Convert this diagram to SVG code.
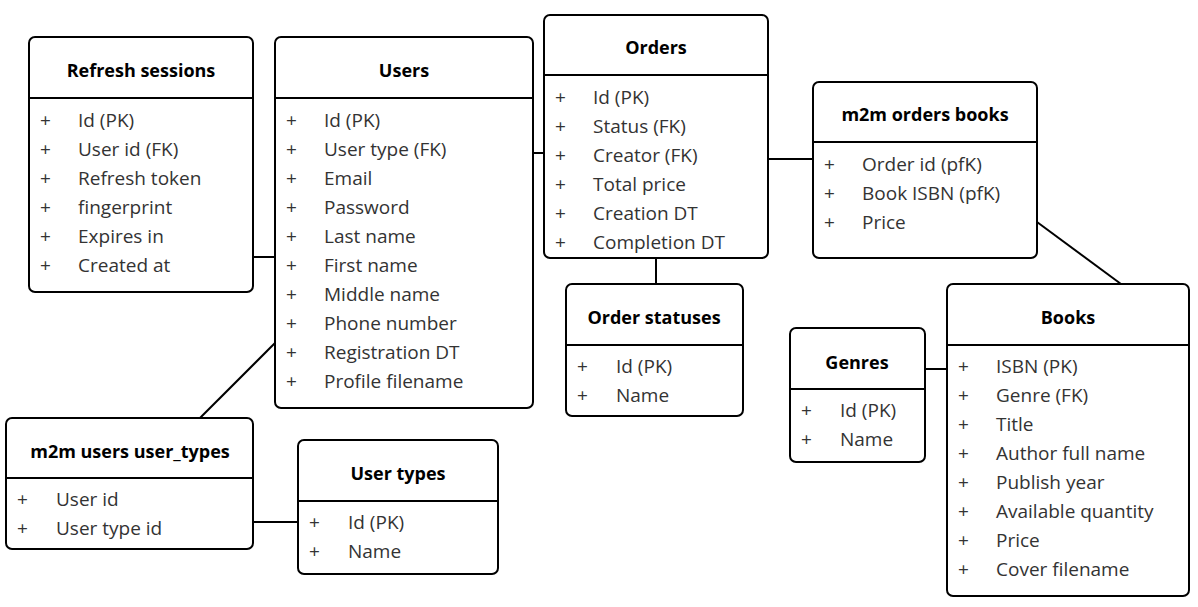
<svg xmlns="http://www.w3.org/2000/svg" width="1198" height="607" viewBox="0 0 1198 607">
<style>
.box{fill:#fff;stroke:#000;stroke-width:2}
.sep{stroke:#000;stroke-width:2}
.t{font-family:"Open Sans","Noto Sans",sans-serif;font-size:18px;font-weight:bold;fill:#000;text-anchor:middle;dominant-baseline:central}
.a{font-family:"Open Sans","Noto Sans",sans-serif;font-size:19px;fill:#333;dominant-baseline:central}
.c{stroke:#000;stroke-width:2;fill:none}
</style>
<rect width="1198" height="607" fill="#fff"/>
<g id="connectors">
<line class="c" x1="253" y1="257" x2="275" y2="257"/>
<line class="c" x1="533" y1="153" x2="544" y2="153"/>
<line class="c" x1="768" y1="159" x2="813" y2="159"/>
<line class="c" x1="656" y1="258" x2="656" y2="284"/>
<line class="c" x1="1037" y1="222" x2="1121" y2="284"/>
<line class="c" x1="925" y1="369" x2="947" y2="369"/>
<line class="c" x1="275" y1="343" x2="200" y2="418"/>
<line class="c" x1="253" y1="522" x2="298" y2="522"/>
</g>
<g id="refresh_sessions">
<rect class="box" x="29" y="37" width="224" height="255" rx="6"/>
<line class="sep" x1="29" y1="98" x2="253" y2="98"/>
<text class="t" x="141" y="70">Refresh sessions</text>
<text class="a" x="40" y="120">+</text><text class="a" x="78" y="120">Id (PK)</text>
<text class="a" x="40" y="149">+</text><text class="a" x="78" y="149">User id (FK)</text>
<text class="a" x="40" y="178">+</text><text class="a" x="78" y="178">Refresh token</text>
<text class="a" x="40" y="207">+</text><text class="a" x="78" y="207">fingerprint</text>
<text class="a" x="40" y="236">+</text><text class="a" x="78" y="236">Expires in</text>
<text class="a" x="40" y="265">+</text><text class="a" x="78" y="265">Created at</text>
</g>
<g id="users">
<rect class="box" x="275" y="37" width="258" height="371" rx="6"/>
<line class="sep" x1="275" y1="98" x2="533" y2="98"/>
<text class="t" x="404" y="70">Users</text>
<text class="a" x="286" y="120">+</text><text class="a" x="324" y="120">Id (PK)</text>
<text class="a" x="286" y="149">+</text><text class="a" x="324" y="149">User type (FK)</text>
<text class="a" x="286" y="178">+</text><text class="a" x="324" y="178">Email</text>
<text class="a" x="286" y="207">+</text><text class="a" x="324" y="207">Password</text>
<text class="a" x="286" y="236">+</text><text class="a" x="324" y="236">Last name</text>
<text class="a" x="286" y="265">+</text><text class="a" x="324" y="265">First name</text>
<text class="a" x="286" y="294">+</text><text class="a" x="324" y="294">Middle name</text>
<text class="a" x="286" y="323">+</text><text class="a" x="324" y="323">Phone number</text>
<text class="a" x="286" y="352">+</text><text class="a" x="324" y="352">Registration DT</text>
<text class="a" x="286" y="381">+</text><text class="a" x="324" y="381">Profile filename</text>
</g>
<g id="orders">
<rect class="box" x="544" y="15" width="224" height="243" rx="6"/>
<line class="sep" x1="544" y1="75" x2="768" y2="75"/>
<text class="t" x="656" y="47">Orders</text>
<text class="a" x="555" y="97">+</text><text class="a" x="593" y="97">Id (PK)</text>
<text class="a" x="555" y="126">+</text><text class="a" x="593" y="126">Status (FK)</text>
<text class="a" x="555" y="155">+</text><text class="a" x="593" y="155">Creator (FK)</text>
<text class="a" x="555" y="184">+</text><text class="a" x="593" y="184">Total price</text>
<text class="a" x="555" y="213">+</text><text class="a" x="593" y="213">Creation DT</text>
<text class="a" x="555" y="242">+</text><text class="a" x="593" y="242">Completion DT</text>
</g>
<g id="m2m_orders_books">
<rect class="box" x="813" y="82" width="224" height="176" rx="6"/>
<line class="sep" x1="813" y1="142" x2="1037" y2="142"/>
<text class="t" x="925" y="114">m2m orders books</text>
<text class="a" x="824" y="164">+</text><text class="a" x="862" y="164">Order id (pfK)</text>
<text class="a" x="824" y="193">+</text><text class="a" x="862" y="193">Book ISBN (pfK)</text>
<text class="a" x="824" y="222">+</text><text class="a" x="862" y="222">Price</text>
</g>
<g id="order_statuses">
<rect class="box" x="566" y="284" width="177" height="132" rx="6"/>
<line class="sep" x1="566" y1="345" x2="743" y2="345"/>
<text class="t" x="654" y="317">Order statuses</text>
<text class="a" x="577" y="366">+</text><text class="a" x="616" y="366">Id (PK)</text>
<text class="a" x="577" y="395">+</text><text class="a" x="616" y="395">Name</text>
</g>
<g id="genres">
<rect class="box" x="790" y="328" width="135" height="134" rx="6"/>
<line class="sep" x1="790" y1="389" x2="925" y2="389"/>
<text class="t" x="857" y="362">Genres</text>
<text class="a" x="801" y="410">+</text><text class="a" x="840" y="410">Id (PK)</text>
<text class="a" x="801" y="439">+</text><text class="a" x="840" y="439">Name</text>
</g>
<g id="books">
<rect class="box" x="947" y="284" width="242" height="312" rx="6"/>
<line class="sep" x1="947" y1="345" x2="1189" y2="345"/>
<text class="t" x="1068" y="317">Books</text>
<text class="a" x="958" y="366">+</text><text class="a" x="996" y="366">ISBN (PK)</text>
<text class="a" x="958" y="395">+</text><text class="a" x="996" y="395">Genre (FK)</text>
<text class="a" x="958" y="424">+</text><text class="a" x="996" y="424">Title</text>
<text class="a" x="958" y="453">+</text><text class="a" x="996" y="453">Author full name</text>
<text class="a" x="958" y="482">+</text><text class="a" x="996" y="482">Publish year</text>
<text class="a" x="958" y="511">+</text><text class="a" x="996" y="511">Available quantity</text>
<text class="a" x="958" y="540">+</text><text class="a" x="996" y="540">Price</text>
<text class="a" x="958" y="569">+</text><text class="a" x="996" y="569">Cover filename</text>
</g>
<g id="m2m_users_user_types">
<rect class="box" x="6" y="418" width="247" height="131" rx="6"/>
<line class="sep" x1="6" y1="478" x2="253" y2="478"/>
<text class="t" x="130" y="451">m2m users user_types</text>
<text class="a" x="17" y="499">+</text><text class="a" x="56" y="499">User id</text>
<text class="a" x="17" y="528">+</text><text class="a" x="56" y="528">User type id</text>
</g>
<g id="user_types">
<rect class="box" x="298" y="440" width="200" height="134" rx="6"/>
<line class="sep" x1="298" y1="501" x2="498" y2="501"/>
<text class="t" x="398" y="473">User types</text>
<text class="a" x="309" y="522">+</text><text class="a" x="348" y="522">Id (PK)</text>
<text class="a" x="309" y="551">+</text><text class="a" x="348" y="551">Name</text>
</g>
</svg>
